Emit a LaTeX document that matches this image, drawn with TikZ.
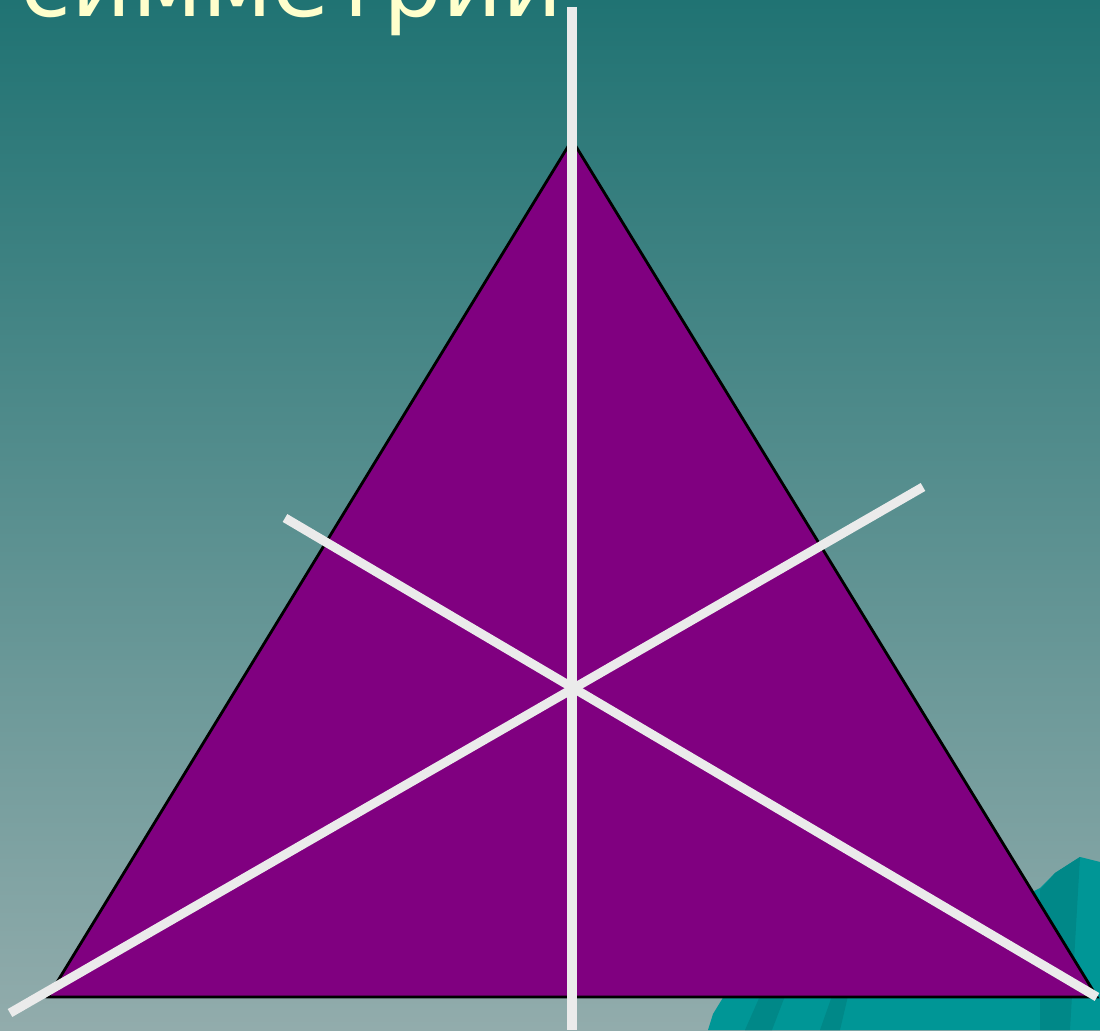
\documentclass[tikz,border=0pt]{standalone}
\usepackage{fontspec}
\setmainfont{DejaVu Sans}
\definecolor{bgtop}{RGB}{32,115,115}
\definecolor{bgbottom}{RGB}{146,172,172}
\definecolor{trifill}{RGB}{128,0,128}
\definecolor{axiscol}{RGB}{235,235,235}
\definecolor{titlecol}{RGB}{255,255,204}
\definecolor{wavelight}{RGB}{0,150,150}
\definecolor{wavedark}{RGB}{0,136,136}
\begin{document}
\begin{tikzpicture}[x=0.01cm, y=0.01cm,
  axis/.style={draw=axiscol, line width=2.6pt},
  title/.style={text=titlecol, font=\fontsize{26.4}{27}\selectfont, inner sep=0pt}]
\useasboundingbox (0,0) rectangle (1100,1030);
\clip (0,0) rectangle (1100,1030);
% background
\shade[top color=bgtop, bottom color=bgbottom] (0,0) rectangle (1100,1030);
% corner wave
\fill[wavelight] (708,0) -- (713,16) -- (724,34) -- (900,70) -- (1040,142) -- (1055,157) -- (1080,173) -- (1100,168) -- (1100,0) -- cycle;
\fill[wavedark] (745,0) -- (760,34) -- (785,34) -- (772,0) -- cycle;
\fill[wavedark] (820,0) -- (832,34) -- (848,34) -- (840,0) -- cycle;
\fill[wavedark] (1040,0) -- (1040,140) -- (1055,157) -- (1080,173) -- (1070,0) -- cycle;
% title
\node[title, anchor=base west] (caption) at (20,1013) {симметрии};
% triangle
\coordinate (apex) at (572,890);
\coordinate (left) at (48,33);
\coordinate (right) at (1097,33);
\filldraw[fill=trifill, draw=black, line width=0.8pt] (left) -- (apex) -- (right) -- cycle;
% axes of symmetry
\coordinate (vtop) at (572,1023);
\coordinate (vbot) at (572,0);
\coordinate (ltop) at (285,512);
\coordinate (rbot) at (1097,33);
\coordinate (rtop) at (923,543);
\coordinate (lbot) at (10,17);
\draw[axis] (vtop) -- (vbot);
\draw[axis] (ltop) -- (rbot);
\draw[axis] (rtop) -- (lbot);
\end{tikzpicture}
\end{document}
